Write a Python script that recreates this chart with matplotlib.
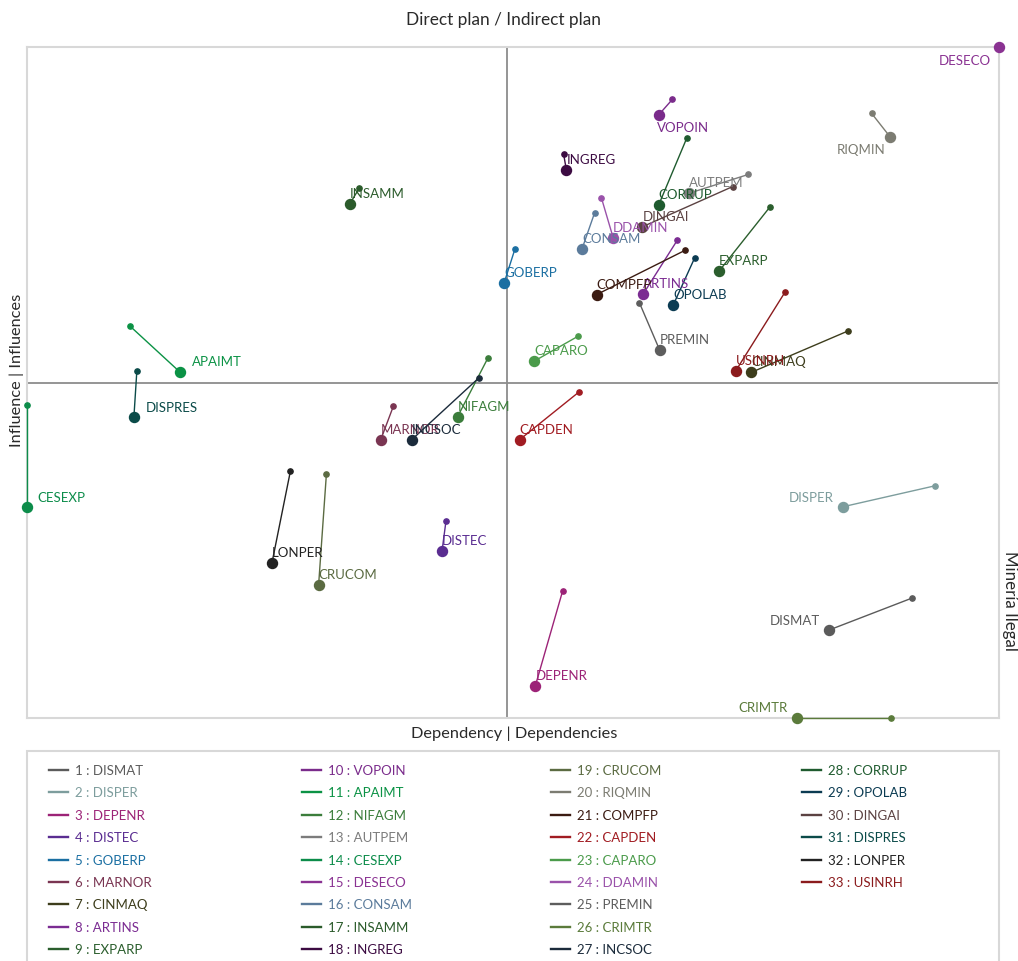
import matplotlib
matplotlib.use("Agg")
import matplotlib.pyplot as plt
from matplotlib.lines import Line2D
from matplotlib.patches import Rectangle

plt.rcParams['font.family'] = ['Lato', 'DejaVu Sans']

# ---------------- data ----------------
names = ["DISMAT", "DISPER", "DEPENR", "DISTEC", "GOBERP", "MARNOR", "CINMAQ",
         "ARTINS", "EXPARP", "VOPOIN", "APAIMT", "NIFAGM", "AUTPEM", "CESEXP",
         "DESECO", "CONSAM", "INSAMM", "INGREG", "CRUCOM", "RIQMIN", "COMPFP",
         "CAPDEN", "CAPARO", "DDAMIN", "PREMIN", "CRIMTR", "INCSOC", "CORRUP",
         "OPOLAB", "DINGAI", "DISPRES", "LONPER", "USINRH"]

# indirect plan (large dots, labelled)
ind_dep = [82.5, 84.0, 52.3, 42.7, 49.1, 36.4, 74.5, 63.4, 71.2, 65.0, 15.7,
           44.3, 68.1, 0.0, 100.0, 57.1, 33.2, 55.5, 30.0, 88.8, 58.6, 50.7,
           52.2, 60.3, 65.1, 79.2, 39.6, 65.0, 66.5, 63.3, 11.0, 25.2, 72.9]
ind_inf = [13.1, 31.5, 4.8, 24.9, 64.9, 41.5, 51.5, 63.2, 66.6, 89.9, 51.6,
           44.9, 78.2, 31.5, 100.0, 69.9, 76.6, 81.6, 19.8, 86.6, 63.1, 41.5,
           53.2, 71.6, 54.8, 0.0, 41.5, 76.5, 61.6, 73.2, 44.9, 23.1, 51.7]

# direct plan (small dots)
dir_dep = [91.1, 93.4, 55.1, 43.1, 50.2, 37.7, 84.5, 66.9, 76.4, 66.4, 10.6,
           47.4, 74.2, 0.0, 100.0, 58.4, 34.2, 55.2, 30.8, 86.9, 67.7, 56.8,
           56.7, 59.1, 63.0, 88.9, 46.5, 67.9, 68.7, 72.6, 11.3, 27.1, 78.0]
dir_inf = [17.9, 34.6, 18.9, 29.3, 69.9, 46.5, 57.7, 71.2, 76.1, 92.2, 58.4,
           53.6, 81.0, 46.7, 100.0, 75.3, 79.0, 84.1, 36.3, 90.1, 69.7, 48.6,
           56.9, 77.5, 61.9, 0.0, 50.7, 86.5, 68.6, 79.2, 51.7, 36.8, 63.5]

colors = ["#5b5b5b", "#7d9d9d", "#9c2377", "#5a2d91", "#1b6fa2", "#7a3552",
          "#3d3d1c", "#7b2c92", "#2b5e2d", "#7a2b8b", "#0b9245", "#3b7d3b",
          "#7c7c7c", "#0c8c4a", "#8a3292", "#5b7b9b", "#2b5b2b", "#3c0b42",
          "#5b6b42", "#7c7c72", "#3b1b12", "#a11c22", "#4b9b4b", "#9a52aa",
          "#5d5d5d", "#5b7b3b", "#1b2b3b", "#1f5b2f", "#0b3b52", "#5b4242",
          "#0b4b49", "#222222", "#8b1b1d"]

mean_dep = 49.4
mean_inf = 49.9

# label placement (offset in points, horizontal alignment)
label_style = {
    "VOPOIN": ((-1.4, -8.6), "left"),
    "APAIMT": ((8.6, 7.9), "left"),
    "CESEXP": ((7.2, 7.2), "left"),
    "DISPRES": ((8.6, 7.2), "left"),
    "DESECO": ((-5.8, -9.4), "right"),
    "RIQMIN": ((-3.6, -8.6), "right"),
    "DISMAT": ((-6.5, 7.2), "right"),
    "DISPER": ((-7.2, 7.2), "right"),
    "CRIMTR": ((-6.5, 7.9), "right"),
}

# ---------------- figure ----------------
fig = plt.figure(figsize=(10.18, 9.62), dpi=100)
ax = fig.add_axes([27/1018, 1-719/962, 972/1018, 671/962])
ax.set_xlim(0, 100)
ax.set_ylim(0, 100)
ax.set_xticks([])
ax.set_yticks([])
for s in ax.spines.values():
    s.set_color("#d8d8d8")
    s.set_linewidth(1.5)

ax.axvline(mean_dep, color="#8c8c8c", lw=1.3, zorder=1)
ax.axhline(mean_inf, color="#8c8c8c", lw=1.3, zorder=1)

for i, n in enumerate(names):
    c = colors[i]
    ax.plot([ind_dep[i], dir_dep[i]], [ind_inf[i], dir_inf[i]], color=c,
            lw=1.0, zorder=3, clip_on=False)
    ax.plot(dir_dep[i], dir_inf[i], "o", color=c, ms=3.8, zorder=4, clip_on=False)
    ax.plot(ind_dep[i], ind_inf[i], "o", color=c, ms=7.2, zorder=5, clip_on=False)
    off, ha = label_style.get(n, ((0.0, 7.9), "left"))
    ax.annotate(n, (ind_dep[i], ind_inf[i]), xytext=off, textcoords="offset points",
                ha=ha, va="center", color=c, fontsize=9.5, zorder=6,
                annotation_clip=False)

# axis titles
tc = "#2a2a2a"
fig.text(504/1018, 1-20/962, "Direct plan / Indirect plan", ha="center", va="center",
         fontsize=12.4, color=tc)
fig.text(514/1018, 1-734/962, "Dependency | Dependencies", ha="center", va="center",
         fontsize=11.8, color=tc)
fig.text(17/1018, 1-370/962, "Influence | Influences", ha="center", va="center",
         rotation=90, fontsize=11.8, color=tc)
fig.text(1010/1018, 1-601/962, "Minería Ilegal", ha="center", va="center",
         rotation=-90, fontsize=12.2, color=tc)

# legend box
fig.patches.append(Rectangle((27/1018, -0.02), 972/1018, (1-752/962) + 0.02,
                             transform=fig.transFigure, fill=False,
                             edgecolor="#d8d8d8", lw=1.5))

col_x = [49, 302, 551, 802]
per_col = [9, 9, 9, 6]
idx = 0
for ci, cx in enumerate(col_x):
    for r in range(per_col[ci]):
        y = 771 + r * 22.4
        fy = 1 - y / 962
        fig.add_artist(Line2D([cx/1018, (cx+19)/1018], [fy, fy],
                              transform=fig.transFigure, color=colors[idx], lw=1.7))
        fig.text((cx+26)/1018, fy, f"{idx+1} : {names[idx]}", ha="left",
                 va="center", fontsize=9.5, color=colors[idx])
        idx += 1

fig.savefig("out.png", dpi=100)
